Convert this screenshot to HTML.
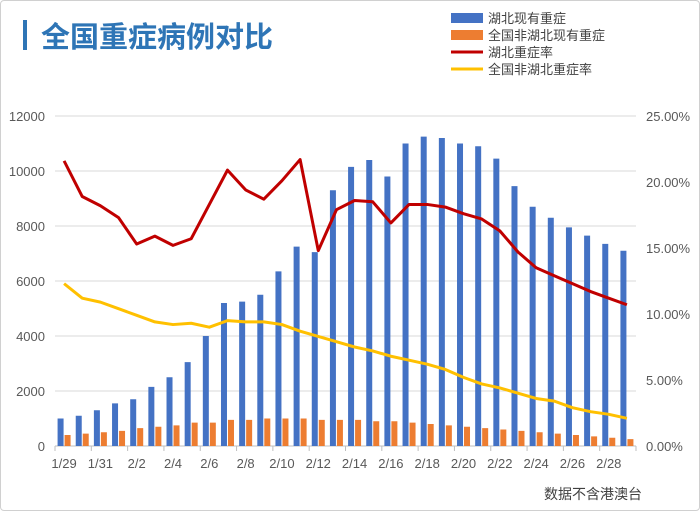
<!DOCTYPE html>
<html><head><meta charset="utf-8"><style>
body{margin:0;background:#fff;font-family:"Liberation Sans","Noto Sans CJK SC",sans-serif}
#wrap{position:relative;width:698px;height:509px;border:1px solid #d0d0d0;border-radius:4px;overflow:hidden}
</style></head><body>
<div id="wrap">
<svg id="chart" width="700" height="511"></svg>
</div>
<script>
const categories=["1/29","1/30","1/31","2/1","2/2","2/3","2/4","2/5","2/6","2/7","2/8","2/9","2/10","2/11","2/12","2/13","2/14","2/15","2/16","2/17","2/18","2/19","2/20","2/21","2/22","2/23","2/24","2/25","2/26","2/27","2/28","2/29"];
const hubeiSevere=[1000,1100,1300,1550,1700,2150,2500,3050,4000,5200,5250,5500,6350,7250,7050,9300,10150,10400,9800,11000,11250,11200,11000,10900,10450,9450,8700,8300,7950,7650,7350,7100];
const otherSevere=[400,450,500,550,650,700,750,850,850,950,950,1000,1000,1000,950,950,950,900,900,850,800,750,700,650,600,550,500,450,400,350,300,250];
const hubeiRate=[21.6,18.9,18.2,17.3,15.3,15.9,15.2,15.7,18.3,20.9,19.4,18.7,20.1,21.7,14.8,17.9,18.6,18.5,16.9,18.3,18.3,18.1,17.6,17.2,16.3,14.7,13.5,12.9,12.3,11.7,11.2,10.7];
const otherRate=[12.3,11.2,10.9,10.4,9.9,9.4,9.2,9.3,9.0,9.5,9.4,9.4,9.2,8.7,8.3,7.9,7.5,7.2,6.8,6.5,6.2,5.8,5.2,4.7,4.4,4.0,3.6,3.4,2.9,2.6,2.4,2.1];
const leftTicks=[0,2000,4000,6000,8000,10000,12000];
const rightTicks=["0.00%","5.00%","10.00%","15.00%","20.00%","25.00%"];
const xLabels=["1/29","1/31","2/2","2/4","2/6","2/8","2/10","2/12","2/14","2/16","2/18","2/20","2/22","2/24","2/26","2/28"];

const svg=document.getElementById('chart');const NS="http://www.w3.org/2000/svg";
function mk(t,a,p){const e=document.createElementNS(NS,t);for(const k in a)e.setAttribute(k,a[k]);(p||svg).appendChild(e);return e;}
const X0=54,X1=635,Y0=445,Y1=115,slot=(X1-X0)/categories.length;
const yL=v=>Y0-(v/12000)*(Y0-Y1);
const yR=v=>Y0-(v/25)*(Y0-Y1);
const xC=i=>X0+slot*(i+0.5);

// title
let r=mk('rect',{x:22,y:19,width:4,height:30,fill:'#2e75b6'});


let t=mk('text',{x:40,y:46,'font-size':29,'font-weight':'bold',fill:'#2e75b6'});t.textContent='全国重症病例对比';



// gridlines & left ticks
leftTicks.forEach(v=>{
 const g=mk('line',{x1:X0,x2:X1,y1:yL(v),y2:yL(v),stroke:v===0?'#bfbfbf':'#d9d9d9','stroke-width':1});
 
 
 const l=mk('text',{x:44,y:yL(v)+5,'text-anchor':'end','font-size':13,fill:'#595959'});l.textContent=v;
 
 
});
rightTicks.forEach((s,i)=>{
 const l=mk('text',{x:645,y:yR(i*5)+5,'font-size':13,fill:'#595959'});l.textContent=s;
 
 
});
// x ticks
for(let i=0;i<=categories.length;i+=2){
 const tk=mk('line',{x1:X0+slot*i,x2:X0+slot*i,y1:Y0,y2:Y0+5,stroke:'#bfbfbf'});
 
 
}
categories.forEach((c,i)=>{
 if(xLabels.indexOf(c)<0)return;
 const l=mk('text',{x:xC(i),y:467,'text-anchor':'middle','font-size':13,fill:'#595959'});l.textContent=c;
 
 
});
// bars
const bw=6;
hubeiSevere.forEach((v,i)=>{
 const b=mk('rect',{x:xC(i)-bw-0.5,y:yL(v),width:bw,height:Y0-yL(v),fill:'#4472c4'});
 
 
});
otherSevere.forEach((v,i)=>{
 const b=mk('rect',{x:xC(i)+0.5,y:yL(v),width:bw,height:Y0-yL(v),fill:'#ed7d31'});
 
 
});
// lines
function line(arr,col,name){
 const p=mk('polyline',{points:arr.map((v,i)=>xC(i)+','+yR(v)).join(' '),fill:'none',stroke:col,'stroke-width':3,'stroke-linejoin':'round'});
 
 
}
line(otherRate,'#ffc000','line-other-rate');
line(hubeiRate,'#c00000','line-hubei-rate');
// legend
const leg=[['rect','#4472c4','湖北现有重症'],['rect','#ed7d31','全国非湖北现有重症'],['line','#c00000','湖北重症率'],['line','#ffc000','全国非湖北重症率']];
leg.forEach((d,i)=>{
 const y=17+i*17;
 let s;
 if(d[0]==='rect')s=mk('rect',{x:450,y:y-5,width:32,height:10,fill:d[1]});
 else s=mk('line',{x1:450,x2:482,y1:y,y2:y,stroke:d[1],'stroke-width':3});
 
 
 const l=mk('text',{x:487,y:y+5,'font-size':13,fill:'#404040'});l.textContent=d[2];
 
 
});
t=mk('text',{x:543,y:498,'font-size':14,fill:'#404040'});t.textContent='数据不含港澳台';


</script>
</body></html>
